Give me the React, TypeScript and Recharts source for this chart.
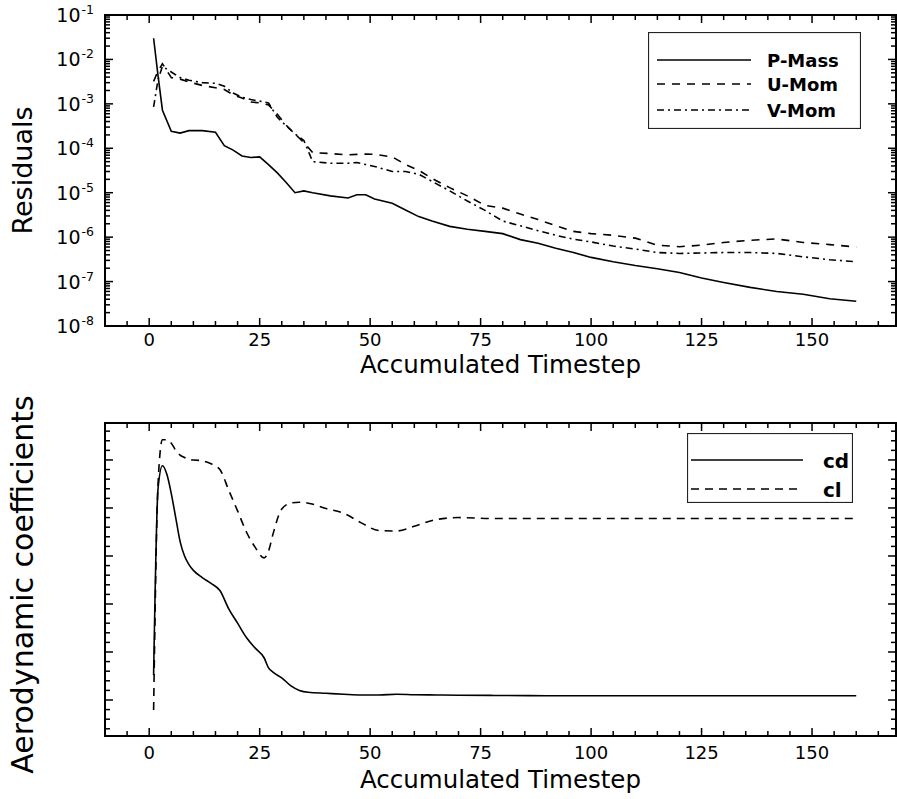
import React from "react";
import { LineChart, Line, XAxis, YAxis, ReferenceArea, Legend } from "recharts";

const FONT = "'DejaVu Sans', 'Liberation Sans', Arial, sans-serif";
const INK = "#000";

// residual history (top panel)
const STEPS = [
  1, 2, 3, 5, 7, 9, 12, 15, 17, 19, 21, 23, 25, 27, 29, 31, 33, 35, 37, 41, 45, 47, 49, 51,
  55, 58, 61, 64, 68, 72, 76, 80, 84, 88, 92, 96, 100, 105, 110, 115, 120, 125, 130, 136, 142, 148, 154, 160,
];
const P_MASS = [
  3.0e-2, 4.3e-3, 7.2e-4, 2.4e-4, 2.2e-4, 2.5e-4, 2.5e-4, 2.3e-4, 1.15e-4, 9.1e-5, 6.7e-5, 6.2e-5,
  6.4e-5, 4.3e-5, 2.8e-5, 1.7e-5, 1.0e-5, 1.1e-5, 1.0e-5, 8.5e-6, 7.6e-6, 9.0e-6, 9.0e-6, 7.2e-6,
  5.8e-6, 4.1e-6, 2.9e-6, 2.3e-6, 1.75e-6, 1.5e-6, 1.35e-6, 1.2e-6, 8.8e-7, 7.3e-7, 5.6e-7, 4.5e-7,
  3.5e-7, 2.8e-7, 2.3e-7, 1.95e-7, 1.6e-7, 1.2e-7, 9.5e-8, 7.4e-8, 6.0e-8, 5.2e-8, 4.1e-8, 3.6e-8,
];
const U_MOM = [
  3.2e-3, 5.5e-3, 8.0e-3, 3.9e-3, 3.6e-3, 3.1e-3, 2.6e-3, 2.3e-3, 2.1e-3, 1.6e-3, 1.35e-3, 1.1e-3,
  1.05e-3, 9.5e-4, 5.8e-4, 3.3e-4, 2.1e-4, 1.35e-4, 8.0e-5, 7.6e-5, 7.1e-5, 7.3e-5, 7.4e-5, 7.3e-5,
  6.4e-5, 4.3e-5, 3.2e-5, 2.1e-5, 1.3e-5, 8.5e-6, 5.2e-6, 4.5e-6, 3.3e-6, 2.5e-6, 1.8e-6, 1.35e-6,
  1.2e-6, 1.1e-6, 9.5e-7, 6.6e-7, 6.1e-7, 6.6e-7, 7.6e-7, 8.5e-7, 9.1e-7, 7.6e-7, 6.8e-7, 6.0e-7,
];
const V_MOM = [
  8.5e-4, 3.5e-3, 7.0e-3, 5.2e-3, 3.9e-3, 3.4e-3, 3.0e-3, 2.9e-3, 2.5e-3, 1.75e-3, 1.4e-3, 1.25e-3,
  1.15e-3, 1.05e-3, 5.0e-4, 3.2e-4, 2.1e-4, 1.5e-4, 5.0e-5, 4.6e-5, 4.6e-5, 4.8e-5, 4.3e-5, 3.9e-5,
  3.0e-5, 3.0e-5, 2.6e-5, 1.8e-5, 1.1e-5, 6.5e-6, 4.0e-6, 2.3e-6, 1.8e-6, 1.4e-6, 1.1e-6, 9.0e-7,
  7.8e-7, 6.3e-7, 5.4e-7, 4.5e-7, 4.3e-7, 4.4e-7, 4.5e-7, 4.5e-7, 4.3e-7, 3.6e-7, 3.1e-7, 2.8e-7,
];

// force coefficients (bottom panel)
const COEF_STEPS = [
  1, 2, 3, 4, 5, 6, 7, 8, 9, 10, 12, 14, 16, 18, 20, 22, 24, 26, 27, 28, 30, 32, 34, 36, 40, 44, 48,
  52, 56, 60, 65, 70, 78, 90, 110, 130, 160,
];
const CD = [
  0.052, 0.44, 0.488, 0.47, 0.43, 0.38, 0.33, 0.3, 0.282, 0.27, 0.255, 0.243, 0.228, 0.19, 0.16, 0.13,
  0.108, 0.088, 0.067, 0.058, 0.046, 0.03, 0.02, 0.016, 0.014, 0.012, 0.0105, 0.0105, 0.012, 0.011,
  0.0105, 0.01, 0.0095, 0.009, 0.009, 0.009, 0.009,
];
const CL = [
  -0.021, 0.45, 0.542, 0.542, 0.535, 0.52, 0.51, 0.505, 0.5, 0.5, 0.498, 0.492, 0.48, 0.437, 0.394, 0.35,
  0.318, 0.296, 0.31, 0.345, 0.398, 0.41, 0.412, 0.41, 0.399, 0.389, 0.369, 0.353, 0.352, 0.362, 0.376,
  0.38, 0.378, 0.378, 0.378, 0.378, 0.378,
];

const X_DOMAIN: [number, number] = [-10, 169];
const X_TICKS = [
  -5, 0, 5, 10, 15, 20, 25, 30, 35, 40, 45, 50, 55, 60, 65, 70, 75, 80, 85, 90, 95, 100, 105, 110, 115,
  120, 125, 130, 135, 140, 145, 150, 155, 160, 165,
];
const X_LABELS = [0, 25, 50, 75, 100, 125, 150];

const RES_DOMAIN: [number, number] = [1e-8, 1e-1];
const RES_DECADES = [-8, -7, -6, -5, -4, -3, -2, -1];
const RES_TICKS = RES_DECADES.flatMap((d) =>
  d === -1 ? [10 ** d] : [1, 2, 3, 4, 5, 6, 7, 8, 9].map((m) => m * 10 ** d)
);

const COEF_DOMAIN: [number, number] = [-0.075, 0.577];
const COEF_TICKS = [
  -0.06, -0.04, -0.02, 0, 0.02, 0.04, 0.06, 0.08, 0.1, 0.12, 0.14, 0.16, 0.18, 0.2, 0.22, 0.24, 0.26,
  0.28, 0.3, 0.32, 0.34, 0.36, 0.38, 0.4, 0.42, 0.44, 0.46, 0.48, 0.5, 0.52, 0.54, 0.56,
];
const COEF_MAJOR = [0, 0.1, 0.2, 0.3, 0.4, 0.5];

const RES_SERIES = [
  { key: "p", name: "P-Mass", dash: undefined },
  { key: "u", name: "U-Mom", dash: "8 7" },
  { key: "v", name: "V-Mom", dash: "7 4 2 4" },
];
const COEF_SERIES = [
  { key: "cd", name: "cd", dash: undefined },
  { key: "cl", name: "cl", dash: "8 6" },
];

// layout
const W = 897;
const PLOT_L = 105;
const PLOT_R = 896;
const TOP_H = 380;
const BOT_H = 419;
const TOP_MARGIN = { top: 15, right: W - PLOT_R, bottom: 0, left: 0 };
const BOT_MARGIN = { top: 43, right: W - PLOT_R, bottom: 0, left: 0 };
const TOP_XAXIS_H = 54;
const BOT_XAXIS_H = 63;

const resRows = STEPS.map((t, i) => ({ t, p: P_MASS[i], u: U_MOM[i], v: V_MOM[i] }));
const coefRows = COEF_STEPS.map((t, i) => ({ t, cd: CD[i], cl: CL[i] }));

const tickLine = { stroke: INK, strokeWidth: 1.5 };

function makeXTick(plotTop: number, plotBottom: number, labelDy: number) {
  return (props: any) => {
    const { x, payload } = props;
    const major = X_LABELS.includes(payload.value);
    const len = major ? 8 : 5;
    return (
      <g>
        <line x1={x} x2={x} y1={plotBottom} y2={plotBottom - len} {...tickLine} />
        <line x1={x} x2={x} y1={plotTop} y2={plotTop + len} {...tickLine} />
        {major && (
          <text x={x} y={plotBottom + labelDy} textAnchor="middle" fontSize={18} fontFamily={FONT} fill={INK}>
            {payload.value}
          </text>
        )}
      </g>
    );
  };
}

function sideTicks(y: number, len: number) {
  return (
    <>
      <line x1={PLOT_L} x2={PLOT_L + len} y1={y} y2={y} {...tickLine} />
      <line x1={PLOT_R - len} x2={PLOT_R} y1={y} y2={y} {...tickLine} />
    </>
  );
}

function LogTick(props: any) {
  const { y, payload } = props;
  const e = Math.log10(payload.value);
  const major = Math.abs(e - Math.round(e)) < 1e-6;
  return (
    <g>
      {sideTicks(y, major ? 8 : 5)}
      {major && (
        <g fontFamily={FONT} fill={INK}>
          <text x={80.5} y={y + 7} textAnchor="end" fontSize={19}>
            10
          </text>
          <text x={81.5} y={y - 1} textAnchor="start" fontSize={12.5}>
            {String(Math.round(e))}
          </text>
        </g>
      )}
    </g>
  );
}

function CoefTick(props: any) {
  const { y, payload } = props;
  const major = COEF_MAJOR.some((m) => Math.abs(m - payload.value) < 1e-6);
  return <g>{sideTicks(y, major ? 8 : 5)}</g>;
}

function yTitle(text: string, size: number, shift: number) {
  return (props: any) => {
    const vb = props.viewBox;
    const cy = vb.y + vb.height / 2 + shift;
    return (
      <text
        x={22}
        y={cy}
        transform={`rotate(-90 22 ${cy})`}
        textAnchor="middle"
        dominantBaseline="central"
        fontSize={size}
        fontFamily={FONT}
        fill={INK}
      >
        {text}
      </text>
    );
  };
}

function xTitle(dy: number) {
  return (props: any) => {
    const vb = props.viewBox;
    return (
      <text
        x={vb.x + vb.width / 2}
        y={vb.y + dy}
        textAnchor="middle"
        fontSize={24.5}
        fontFamily={FONT}
        fill={INK}
      >
        Accumulated Timestep
      </text>
    );
  };
}

function Key({
  series,
  width,
  height,
  rows,
  lineX,
  labelX,
  fontSize,
  baseShift,
}: {
  series: { key: string; name: string; dash?: string }[];
  width: number;
  height: number;
  rows: number[];
  lineX: [number, number];
  labelX: number;
  fontSize: number;
  baseShift: number;
}) {
  return (
    <svg width={width} height={height} style={{ display: "block" }}>
      <rect x={0.5} y={0.5} width={width - 1} height={height - 1} fill="#fff" stroke="#222" strokeWidth={1.2} />
      {series.map((s, i) => (
        <g key={s.key}>
          <line
            x1={lineX[0]}
            x2={lineX[1]}
            y1={rows[i]}
            y2={rows[i]}
            stroke={INK}
            strokeWidth={1.6}
            strokeDasharray={s.dash}
          />
          <text
            x={labelX}
            y={rows[i] + baseShift}
            fontSize={fontSize}
            fontWeight="bold"
            fontFamily={FONT}
            fill={INK}
          >
            {s.name}
          </text>
        </g>
      ))}
    </svg>
  );
}

function ResidualChart() {
  const plotTop = TOP_MARGIN.top;
  const plotBottom = TOP_H - TOP_XAXIS_H;
  return (
    <LineChart width={W} height={TOP_H} data={resRows} margin={TOP_MARGIN}>
      <XAxis
        dataKey="t"
        type="number"
        domain={X_DOMAIN}
        ticks={X_TICKS}
        interval={0}
        height={TOP_XAXIS_H}
        axisLine={false}
        tickLine={false}
        tick={makeXTick(plotTop, plotBottom, 20)}
        label={xTitle(47)}
      />
      <YAxis
        type="number"
        scale="log"
        domain={RES_DOMAIN}
        ticks={RES_TICKS}
        interval={0}
        width={PLOT_L}
        axisLine={false}
        tickLine={false}
        tick={LogTick}
        label={yTitle("Residuals", 27, 0)}
      />
      <ReferenceArea
        x1={X_DOMAIN[0]}
        x2={X_DOMAIN[1]}
        y1={RES_DOMAIN[0]}
        y2={RES_DOMAIN[1]}
        fill="none"
        fillOpacity={0}
        stroke={INK}
        strokeWidth={2}
        ifOverflow="visible"
      />
      {RES_SERIES.map((s) => (
        <Line
          key={s.key}
          type="linear"
          dataKey={s.key}
          name={s.name}
          stroke={INK}
          strokeWidth={1.6}
          strokeDasharray={s.dash}
          dot={false}
          isAnimationActive={false}
        />
      ))}
      <Legend
        layout="horizontal"
        verticalAlign="middle"
        align="center"
        wrapperStyle={{ position: "absolute", left: 648, top: 32, width: 213, height: 97 }}
        content={() => (
          <Key
            series={RES_SERIES}
            width={213}
            height={97}
            rows={[28, 52, 78]}
            lineX={[9, 103]}
            labelX={119}
            fontSize={18}
            baseShift={6.5}
          />
        )}
      />
    </LineChart>
  );
}

function CoefChart() {
  const plotTop = BOT_MARGIN.top;
  const plotBottom = BOT_H - BOT_XAXIS_H;
  return (
    <LineChart width={W} height={BOT_H} data={coefRows} margin={BOT_MARGIN}>
      <XAxis
        dataKey="t"
        type="number"
        domain={X_DOMAIN}
        ticks={X_TICKS}
        interval={0}
        height={BOT_XAXIS_H}
        axisLine={false}
        tickLine={false}
        tick={makeXTick(plotTop, plotBottom, 23)}
        label={xTitle(52)}
      />
      <YAxis
        type="number"
        domain={COEF_DOMAIN}
        ticks={COEF_TICKS}
        interval={0}
        width={PLOT_L}
        axisLine={false}
        tickLine={false}
        tick={CoefTick}
        label={yTitle("Aerodynamic coefficients", 30, 5)}
      />
      <ReferenceArea
        x1={X_DOMAIN[0]}
        x2={X_DOMAIN[1]}
        y1={COEF_DOMAIN[0]}
        y2={COEF_DOMAIN[1]}
        fill="none"
        fillOpacity={0}
        stroke={INK}
        strokeWidth={2}
        ifOverflow="visible"
      />
      {COEF_SERIES.map((s) => (
        <Line
          key={s.key}
          type="monotone"
          dataKey={s.key}
          name={s.name}
          stroke={INK}
          strokeWidth={1.6}
          strokeDasharray={s.dash}
          dot={false}
          isAnimationActive={false}
        />
      ))}
      <Legend
        layout="horizontal"
        verticalAlign="middle"
        align="center"
        wrapperStyle={{ position: "absolute", left: 687, top: 53, width: 166, height: 70 }}
        content={() => (
          <Key
            series={COEF_SERIES}
            width={166}
            height={70}
            rows={[27, 56]}
            lineX={[4, 116]}
            labelX={136}
            fontSize={20}
            baseShift={7.5}
          />
        )}
      />
    </LineChart>
  );
}

export default function App() {
  return (
    <div style={{ position: "absolute", left: 0, top: 0, width: W, height: 799, background: "#fff" }}>
      <div style={{ position: "absolute", left: 0, top: 0 }}>
        <ResidualChart />
      </div>
      <div style={{ position: "absolute", left: 0, top: TOP_H }}>
        <CoefChart />
      </div>
    </div>
  );
}
